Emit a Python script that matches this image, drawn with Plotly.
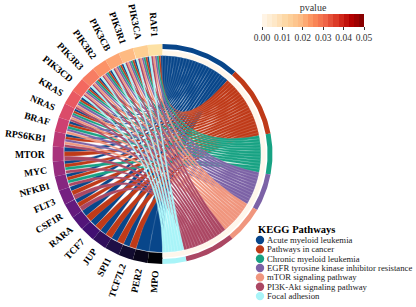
import numpy as np
import plotly.graph_objects as go
from plotly.colors import sample_colorscale, hex_to_rgb

# ---------------- data ----------------
genes = ["RAF1", "PIK3CA", "PIK3R1", "PIK3CB", "PIK3R2", "PIK3R3", "PIK3CD",
         "KRAS", "NRAS", "BRAF", "RPS6KB1", "MTOR", "MYC", "NFKB1", "FLT3",
         "CSF1R", "RARA", "TCF7", "JUP", "SPI1", "TCF7L2", "PER2", "MPO"]

pathways = ["Acute myeloid leukemia", "Pathways in cancer", "Chronic myeloid leukemia",
            "EGFR tyrosine kinase inhibitor resistance", "mTOR signaling pathway",
            "PI3K-Akt signaling pathway", "Focal adhesion"]

pathway_pvalues = [1.2e-12, 3.5e-10, 2.1e-9, 4.0e-9, 6.2e-9, 1.5e-7, 2.3e-4]
pathway_colors = ["#08468A", "#BF3A18", "#17A283", "#7C62A6", "#F0967E", "#AB4763", "#A8F4F8"]

genes_aml = genes[:]
genes_cancer = ["RAF1", "PIK3CA", "PIK3R1", "PIK3CB", "PIK3R2", "PIK3R3", "PIK3CD", "KRAS", "NRAS",
                "BRAF", "RPS6KB1", "MTOR", "MYC", "NFKB1", "FLT3", "CSF1R", "RARA", "TCF7", "JUP",
                "SPI1", "TCF7L2"]
genes_cml = ["RAF1", "PIK3CA", "PIK3R1", "PIK3CB", "PIK3R2", "PIK3R3", "PIK3CD", "KRAS", "NRAS",
             "BRAF", "MYC", "NFKB1"]
genes_egfr = ["RAF1", "PIK3CA", "PIK3R1", "PIK3CB", "PIK3R2", "PIK3R3", "PIK3CD", "KRAS", "NRAS",
              "BRAF", "RPS6KB1"]
genes_mtor = ["RAF1", "PIK3CA", "PIK3R1", "PIK3CB", "PIK3R2", "PIK3R3", "PIK3CD", "KRAS", "NRAS",
              "BRAF", "RPS6KB1"]
genes_pi3k = ["RAF1", "PIK3CA", "PIK3R1", "PIK3CB", "PIK3R2", "PIK3R3", "PIK3CD", "KRAS", "NRAS",
              "RPS6KB1", "MTOR", "MYC", "NFKB1", "FLT3", "CSF1R"]
genes_focal = ["RAF1", "PIK3CA", "PIK3R1", "PIK3CB", "PIK3R2", "PIK3R3", "PIK3CD"]
membership = [genes_aml, genes_cancer, genes_cml, genes_egfr, genes_mtor, genes_pi3k, genes_focal]

pvalue_ticks = [0.00, 0.01, 0.02, 0.03, 0.04, 0.05]

# ---------------- geometry ----------------
W, H = 416, 307
CX, CY, PX = 162.5, 154.0, 110.0  # centre (px) and px per unit radius
FONT = "Liberation Serif"

def sx(px):
    return px / W

def sy(py):
    return 1 - py / H

ng = len(genes)
gw = 180.0 / ng
nlinks = sum(len(m) for m in membership)
unit = 180.0 / nlinks

gene_idx = {g: i for i, g in enumerate(genes)}
gene_paths = [[j for j, m in enumerate(membership) if g in m] for g in genes]

R_CH = 0.893
def pt(r, a):
    t = np.deg2rad(a)
    return r * np.cos(t), r * np.sin(t)

def arc(r, a0, a1, n=10):
    a = np.linspace(a0, a1, n)
    return list(r * np.cos(np.deg2rad(a))), list(r * np.sin(np.deg2rad(a)))

def bez(p0, p2, n=40):
    t = np.linspace(0, 1, n)
    x = (1 - t) ** 2 * p0[0] + t ** 2 * p2[0]
    y = (1 - t) ** 2 * p0[1] + t ** 2 * p2[1]
    return list(x), list(y)

def sector(r0, r1, a0, a1, n=30):
    xo, yo = arc(r1, a0, a1, n)
    xi, yi = arc(r0, a1, a0, n)
    return xo + xi + [xo[0]], yo + yi + [yo[0]]

def lighten(hx, f):
    r, g, b = hex_to_rgb(hx)
    return f"rgb({int(r + (255 - r) * f)},{int(g + (255 - g) * f)},{int(b + (255 - b) * f)})"

fig = go.Figure()

# pathway spans
pstart = []
s = 90.0
for m in membership:
    pstart.append(s)
    s -= len(m) * unit

# chords
for j, m in enumerate(membership):
    X, Y = [], []
    ordered = sorted(m, key=lambda g: gene_idx[g])
    for k, g in enumerate(ordered):
        p1 = pstart[j] - k * unit
        p2 = p1 - unit
        i = gene_idx[g]
        cnt = len(gene_paths[i])
        pos = gene_paths[i].index(j)
        sub = gw / cnt
        g1 = 90 + i * gw + pos * sub
        g2 = g1 + sub
        ax, ay = arc(R_CH, p1, p2, 6)
        bx, by = bez(pt(R_CH, p2), pt(R_CH, g2))
        cx_, cy_ = arc(R_CH, g2, g1, 6)
        dx, dy = bez(pt(R_CH, g1), pt(R_CH, p1))
        X += ax + bx + cx_ + dx + [None]
        Y += ay + by + cy_ + dy + [None]
    fig.add_trace(go.Scatter(x=X, y=Y, mode="lines", fill="toself",
                             fillcolor=pathway_colors[j],
                             line=dict(color=lighten(pathway_colors[j], 0.3), width=0.3),
                             hoverinfo="skip", showlegend=False))

# gene ring
gcols = sample_colorscale("Magma", list(np.linspace(0.94, 0.0, ng)))
for i, g in enumerate(genes):
    x, y = sector(0.9, 1.0, 90 + i * gw, 90 + (i + 1) * gw)
    fig.add_trace(go.Scatter(x=x, y=y, mode="lines", fill="toself", fillcolor=gcols[i],
                             line=dict(width=0), hoverinfo="skip", showlegend=False))

# pathway band + pvalue ring
for j, m in enumerate(membership):
    a0 = pstart[j]
    a1 = a0 - len(m) * unit
    x, y = sector(0.955, 1.0, a0, a1)
    fig.add_trace(go.Scatter(x=x, y=y, mode="lines", fill="toself", fillcolor=pathway_colors[j],
                             line=dict(width=0), hoverinfo="skip", showlegend=False))
    pc = sample_colorscale("OrRd", [min(pathway_pvalues[j] / 0.05, 1.0)])[0]
    x, y = sector(0.9, 0.94, a0, a1)
    fig.add_trace(go.Scatter(x=x, y=y, mode="lines", fill="toself", fillcolor=pc,
                             line=dict(width=0), hoverinfo="skip", showlegend=False))

# colorbar helper trace (stepped OrRd)
nb = 20
steps = sample_colorscale("OrRd", [(k + 0.5) / nb for k in range(nb)])
cs = []
for k in range(nb):
    cs.append([k / nb, steps[k]])
    cs.append([(k + 1) / nb, steps[k]])
fig.add_trace(go.Scatter(
    x=[0], y=[0], mode="markers", hoverinfo="skip", showlegend=False,
    marker=dict(size=1, opacity=0, color=[pathway_pvalues[0]], colorscale=cs, cmin=0, cmax=0.05,
                showscale=True,
                colorbar=dict(orientation="h", x=sx(313), xanchor="center", len=102 / W,
                              lenmode="fraction", thickness=13, y=sy(2.5), yanchor="top",
                              ypad=0, xpad=0, outlinewidth=0,
                              title=dict(text="pvalue", side="top",
                                         font=dict(family=FONT, size=10, color="#333")),
                              tickvals=pvalue_ticks,
                              ticktext=[f"{v:.2f}" for v in pvalue_ticks],
                              ticks="outside", ticklen=3, tickcolor="#333", tickwidth=1,
                              tickfont=dict(family=FONT, size=9.5, color="#333")))))

# gene labels
bold_w = dict(A=.722, B=.667, C=.722, D=.722, E=.667, F=.611, G=.778, H=.778, I=.389, J=.5,
              K=.778, L=.667, M=.944, N=.722, O=.778, P=.611, Q=.778, R=.722, S=.556, T=.667,
              U=.722, V=.722, W=1.0, X=.722, Y=.722, Z=.667)
FS = 9.6
annotations = []
for i, g in enumerate(genes):
    a = 90 + (i + 0.5) * gw
    tw = sum(bold_w.get(c, 0.5) for c in g) * FS
    r = 1.065 + (tw / 2) / PX
    x, y = pt(r, a)
    ang = (-(a + 180)) % 360
    if ang > 180:
        ang -= 360
    annotations.append(dict(x=x, y=y, xref="x", yref="y", text=f"<b>{g}</b>", showarrow=False,
                            textangle=ang, xanchor="center", yanchor="middle",
                            font=dict(family=FONT, size=FS, color="black")))

# custom legend
shapes = []
annotations.append(dict(x=sx(255.5), y=sy(229.5), xref="paper", yref="paper",
                        text="<b>KEGG Pathways</b>", showarrow=False, xanchor="left",
                        yanchor="middle", font=dict(family=FONT, size=10.5, color="black")))
for j, p in enumerate(pathways):
    yc = 240.0 + j * 9.35
    rr = 4.2
    shapes.append(dict(type="circle", xref="paper", yref="paper",
                       x0=sx(260 - rr), x1=sx(260 + rr),
                       y0=sy(yc + rr), y1=sy(yc - rr),
                       fillcolor=pathway_colors[j], line=dict(width=0)))
    annotations.append(dict(x=sx(265), y=sy(yc), xref="paper", yref="paper", text=p,
                            showarrow=False, xanchor="left", yanchor="middle",
                            font=dict(family=FONT, size=8.7, color="#222")))

fig.update_layout(
    width=W, height=H, autosize=False,
    margin=dict(l=0, r=0, t=0, b=0),
    paper_bgcolor="white", plot_bgcolor="white",
    xaxis=dict(range=[-CX / PX, (W - CX) / PX], visible=False, fixedrange=True),
    yaxis=dict(range=[-(H - CY) / PX, CY / PX], visible=False, fixedrange=True),
    annotations=annotations, shapes=shapes, showlegend=False,
)

fig.write_html("out.html", config={"displayModeBar": False},
               post_script="document.body.style.margin='0px';document.body.style.overflow='hidden';")
